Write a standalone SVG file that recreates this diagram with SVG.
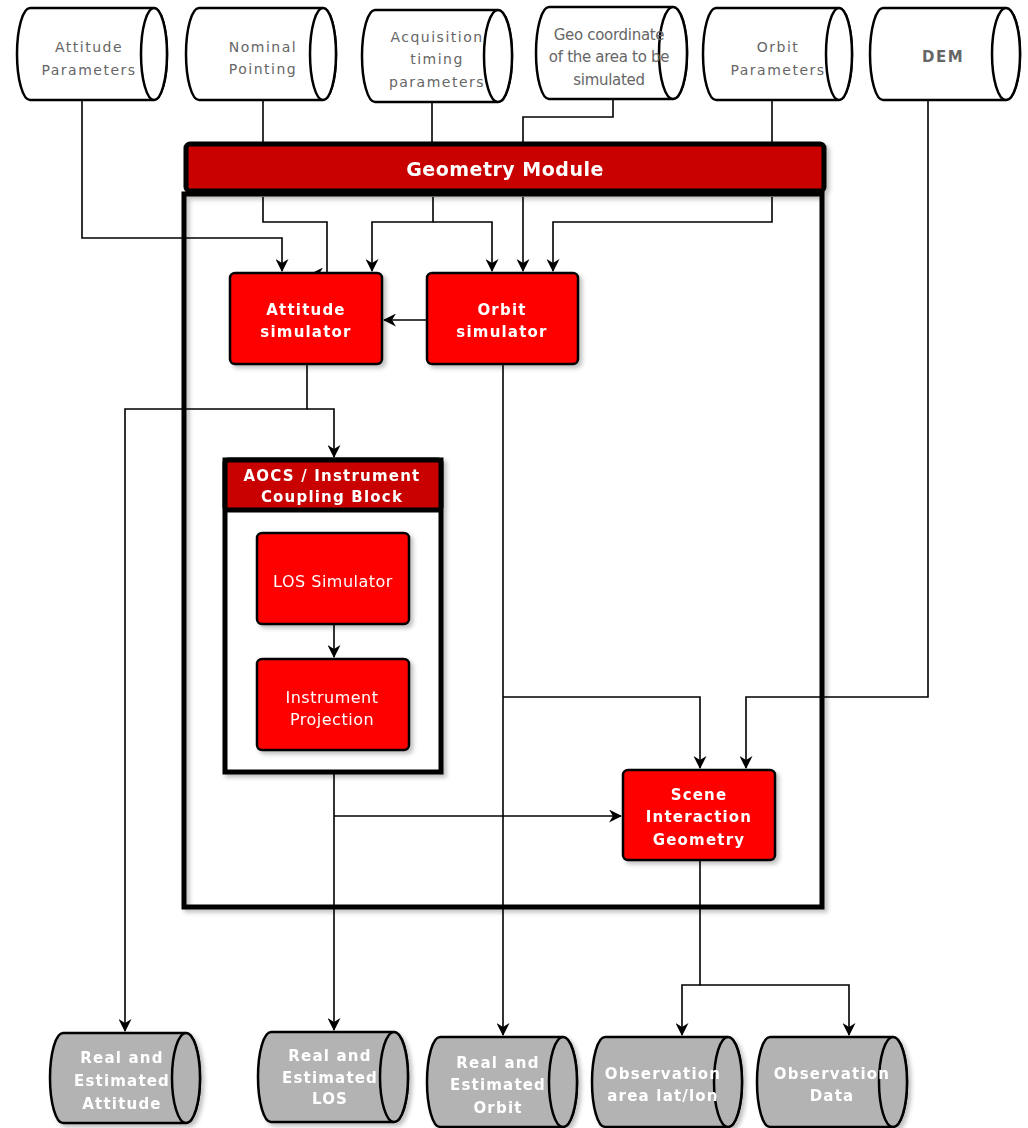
<svg xmlns="http://www.w3.org/2000/svg" width="1028" height="1128" viewBox="0 0 1028 1128">
<style>
.cyl{fill:#fff;stroke:#000;stroke-width:2.5}
.cylg{fill:#b3b3b3;stroke:#000;stroke-width:2.5}
.proc{fill:#ff0000;stroke:#000;stroke-width:2.5}
.hdr{fill:#c80000;stroke:#000;stroke-width:5}
.frame{fill:none;stroke:#000;stroke-width:5}
.t{font-family:"DejaVu Sans",Verdana,sans-serif;font-size:14px;fill:#666;text-anchor:middle;letter-spacing:1.5px}
.tb{font-family:"DejaVu Sans",Verdana,sans-serif;font-size:15px;font-weight:bold;fill:#fff;text-anchor:middle;letter-spacing:1.2px}
.tw{font-family:"DejaVu Sans",Verdana,sans-serif;font-size:16px;fill:#fff;text-anchor:middle;letter-spacing:0.5px}
.c{fill:none;stroke:#000;stroke-width:1.6}
.a{marker-end:url(#arr)}
</style>
<defs>
<marker id="arr" markerWidth="13" markerHeight="13" refX="12" refY="6.5" orient="auto" markerUnits="userSpaceOnUse">
<path d="M0,0 L13,6.5 L0,13 L4,6.5 Z" fill="#000"/>
</marker>
<filter id="sh" x="-10%" y="-10%" width="130%" height="130%">
<feDropShadow dx="3" dy="3" stdDeviation="2" flood-color="#000" flood-opacity="0.25"/>
</filter>
</defs>

<!-- Containers -->
<g id="geometry-module" filter="url(#sh)">
<rect class="frame" x="184" y="194" width="638" height="713"/>
<rect class="hdr" x="186" y="144" width="638" height="47" rx="4"/>
<text class="tb" x="505" y="176" style="font-size:19px;letter-spacing:0.5px">Geometry Module</text>
</g>
<g id="aocs-coupling-block" filter="url(#sh)">
<rect x="225" y="460" width="216" height="312" fill="#fff" stroke="#000" stroke-width="5"/>
<rect class="hdr" x="225" y="460" width="216" height="50" rx="3"/>
<text class="tb" x="332" y="481">AOCS / Instrument</text>
<text class="tb" x="332" y="502">Coupling Block</text>
</g>

<!-- Connectors -->
<g id="connectors">
<path class="c a" d="M82,100 V238 H282 V271"/>
<path class="c" d="M263,100 V143"/>
<path class="c a" d="M263,197 V222 H327 V274 H311"/>
<path class="c" d="M432,102 V143"/>
<path class="c a" d="M433,197 V222 H372 V271"/>
<path class="c a" d="M433,222 H492 V271"/>
<path class="c" d="M613,100 V117 H523 V143"/>
<path class="c a" d="M523,197 V271"/>
<path class="c" d="M772,100 V143"/>
<path class="c a" d="M772,197 V222 H553 V271"/>
<path class="c a" d="M928,100 V697 H746 V768"/>
<path class="c a" d="M427,320 H384"/>
<path class="c a" d="M307,364 V409 H125 V1031"/>
<path class="c a" d="M307,409 H334 V457"/>
<path class="c a" d="M334,624 V657"/>
<path class="c a" d="M334,773 V1030"/>
<path class="c a" d="M334,816 H621"/>
<path class="c a" d="M503,364 V1035"/>
<path class="c a" d="M503,697 H700 V768"/>
<path class="c a" d="M700,860 V985 H682 V1035"/>
<path class="c a" d="M700,985 H849 V1035"/>
</g>

<!-- Top inputs -->
<g id="attitude-parameters">
<path class="cyl" d="M30,8 H154 A13,46 0 0 1 154,100 H30 A13,46 0 0 1 30,8 Z"/>
<ellipse class="cyl" cx="154" cy="54" rx="13" ry="46"/>
<text class="t" x="89" y="52">Attitude</text>
<text class="t" x="89" y="75">Parameters</text>
</g>
<g id="nominal-pointing">
<path class="cyl" d="M199,8 H323 A13,46 0 0 1 323,100 H199 A13,46 0 0 1 199,8 Z"/>
<ellipse class="cyl" cx="323" cy="54" rx="13" ry="46"/>
<text class="t" x="263" y="52">Nominal</text>
<text class="t" x="263" y="74">Pointing</text>
</g>
<g id="acquisition-timing">
<path class="cyl" d="M375,10 H498 A14,46 0 0 1 498,102 H375 A13,46 0 0 1 375,10 Z"/>
<ellipse class="cyl" cx="498" cy="56" rx="14" ry="46"/>
<text class="t" x="437" y="42">Acquisition</text>
<text class="t" x="437" y="64">timing</text>
<text class="t" x="437" y="87">parameters</text>
</g>
<g id="geo-coordinate">
<path class="cyl" d="M549,7 H673 A14,46 0 0 1 673,99 H549 A13,46 0 0 1 549,7 Z"/>
<ellipse class="cyl" cx="673" cy="53" rx="14" ry="46"/>
<text class="t" x="609" y="40" style="letter-spacing:-0.3px;font-size:15px">Geo coordinate</text>
<text class="t" x="609" y="62" style="letter-spacing:-0.3px;font-size:15px">of the area to be</text>
<text class="t" x="609" y="85" style="letter-spacing:-0.3px;font-size:15px">simulated</text>
</g>
<g id="orbit-parameters">
<path class="cyl" d="M716,8 H839 A13,46 0 0 1 839,100 H716 A13,46 0 0 1 716,8 Z"/>
<ellipse class="cyl" cx="839" cy="54" rx="13" ry="46"/>
<text class="t" x="778" y="52">Orbit</text>
<text class="t" x="778" y="75">Parameters</text>
</g>
<g id="dem">
<path class="cyl" d="M883,8 H1006 A14,46 0 0 1 1006,100 H883 A13,46 0 0 1 883,8 Z"/>
<ellipse class="cyl" cx="1006" cy="54" rx="14" ry="46"/>
<text class="t" x="943" y="62" style="font-weight:bold;font-size:15px">DEM</text>
</g>

<!-- Processes -->
<g id="attitude-simulator" filter="url(#sh)">
<rect class="proc" x="230" y="273" width="152" height="91" rx="5"/>
<text class="tb" x="306" y="315">Attitude</text>
<text class="tb" x="306" y="337">simulator</text>
</g>
<g id="orbit-simulator" filter="url(#sh)">
<rect class="proc" x="427" y="273" width="151" height="91" rx="5"/>
<text class="tb" x="502" y="315">Orbit</text>
<text class="tb" x="502" y="337">simulator</text>
</g>
<g id="los-simulator" filter="url(#sh)">
<rect class="proc" x="257" y="533" width="152" height="91" rx="5"/>
<text class="tw" x="333" y="587">LOS Simulator</text>
</g>
<g id="instrument-projection" filter="url(#sh)">
<rect class="proc" x="257" y="659" width="152" height="91" rx="5"/>
<text class="tw" x="332" y="703">Instrument</text>
<text class="tw" x="332" y="725">Projection</text>
</g>
<g id="scene-interaction-geometry" filter="url(#sh)">
<rect class="proc" x="623" y="770" width="152" height="90" rx="5"/>
<text class="tb" x="699" y="800">Scene</text>
<text class="tb" x="699" y="822">Interaction</text>
<text class="tb" x="699" y="845">Geometry</text>
</g>

<!-- Outputs -->
<g id="real-est-attitude" filter="url(#sh)">
<path class="cylg" d="M63,1033 H186 A14,45 0 0 1 186,1123 H63 A13,45 0 0 1 63,1033 Z"/>
<ellipse class="cylg" cx="186" cy="1078" rx="14" ry="45"/>
<text class="tb" x="122" y="1063">Real and</text>
<text class="tb" x="122" y="1086">Estimated</text>
<text class="tb" x="122" y="1109">Attitude</text>
</g>
<g id="real-est-los" filter="url(#sh)">
<path class="cylg" d="M271,1032 H394 A14,45 0 0 1 394,1122 H271 A13,45 0 0 1 271,1032 Z"/>
<ellipse class="cylg" cx="394" cy="1077" rx="14" ry="45"/>
<text class="tb" x="330" y="1061">Real and</text>
<text class="tb" x="330" y="1083">Estimated</text>
<text class="tb" x="330" y="1104">LOS</text>
</g>
<g id="real-est-orbit" filter="url(#sh)">
<path class="cylg" d="M440,1037 H563 A14,45 0 0 1 563,1127 H440 A13,45 0 0 1 440,1037 Z"/>
<ellipse class="cylg" cx="563" cy="1082" rx="14" ry="45"/>
<text class="tb" x="498" y="1068">Real and</text>
<text class="tb" x="498" y="1090">Estimated</text>
<text class="tb" x="498" y="1113">Orbit</text>
</g>
<g id="observation-area" filter="url(#sh)">
<path class="cylg" d="M605,1037 H728 A14,45 0 0 1 728,1127 H605 A13,45 0 0 1 605,1037 Z"/>
<ellipse class="cylg" cx="728" cy="1082" rx="14" ry="45"/>
<text class="tb" x="663" y="1079">Observation</text>
<text class="tb" x="663" y="1101">area lat/lon</text>
</g>
<g id="observation-data" filter="url(#sh)">
<path class="cylg" d="M770,1037 H893 A14,45 0 0 1 893,1127 H770 A13,45 0 0 1 770,1037 Z"/>
<ellipse class="cylg" cx="893" cy="1082" rx="14" ry="45"/>
<text class="tb" x="832" y="1079">Observation</text>
<text class="tb" x="832" y="1101">Data</text>
</g>
</svg>
